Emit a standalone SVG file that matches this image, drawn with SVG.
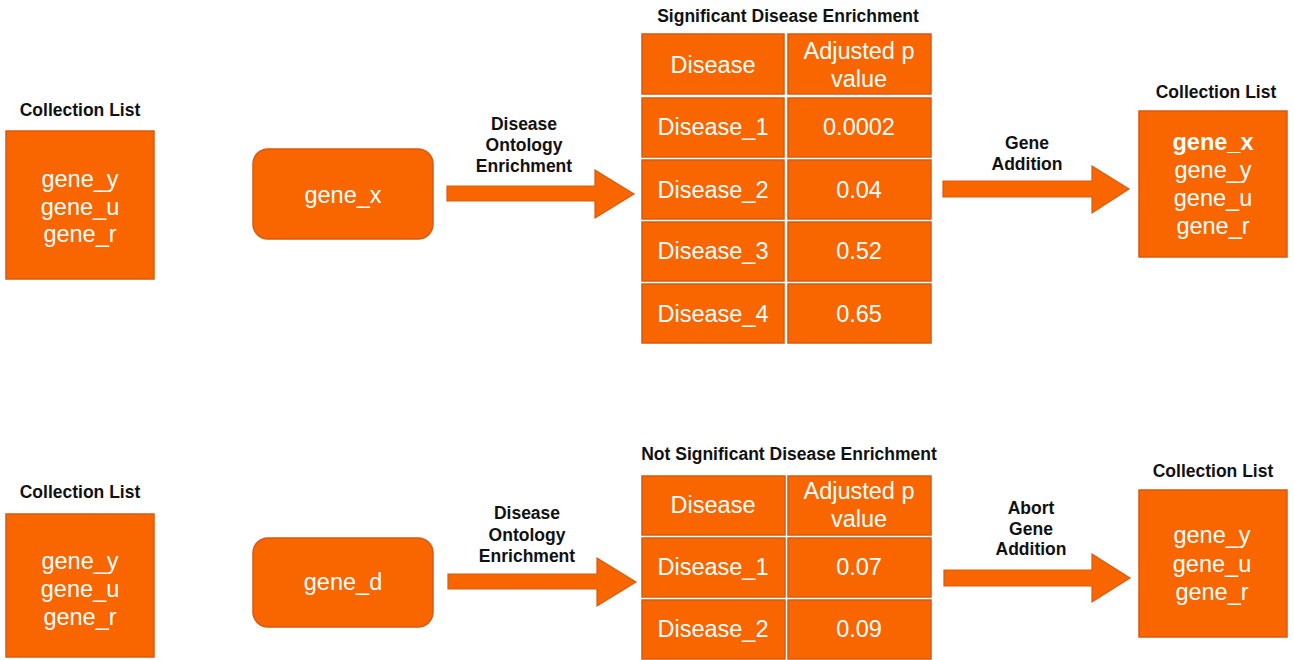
<svg xmlns="http://www.w3.org/2000/svg" width="1294" height="660" viewBox="0 0 1294 660">
<defs>
<style>
.box{fill:#F96600;stroke:#D85A10;stroke-width:1.5}
.arrow{fill:#F96600;stroke:#D85A10;stroke-width:1.2}
.t{font-family:"Liberation Sans",Arial,sans-serif;font-size:23.5px;fill:#FFFFFF;text-anchor:middle}
.tb{font-family:"Liberation Sans",Arial,sans-serif;font-size:23.5px;font-weight:bold;fill:#FFFFFF;text-anchor:middle}
.h{font-family:"Liberation Sans",Arial,sans-serif;font-size:17.5px;font-weight:bold;fill:#111111;text-anchor:middle}
</style>
</defs>
<rect width="1294" height="660" fill="#FFFFFF"/>

<!-- Top row -->
<g id="collection-top-left">
<text class="h" x="80" y="116">Collection List</text>
<rect class="box" x="6" y="131" width="148" height="148"/>
<text class="t" x="80" y="187">gene_y</text>
<text class="t" x="80" y="215">gene_u</text>
<text class="t" x="80" y="242">gene_r</text>
</g>

<g id="gene-x">
<rect class="box" x="253" y="149" width="180" height="90" rx="15" ry="15"/>
<text class="t" x="343" y="203">gene_x</text>
</g>

<g id="table-significant">
<text class="h" x="788" y="22">Significant Disease Enrichment</text>
<rect class="box" x="642" y="34" width="142" height="60"/>
<rect class="box" x="788" y="34" width="143" height="60"/>
<text class="t" x="713" y="73">Disease</text>
<text class="t" x="859" y="59">Adjusted p</text>
<text class="t" x="859" y="87">value</text>
<rect class="box" x="642" y="98" width="142" height="59"/>
<rect class="box" x="788" y="98" width="143" height="59"/>
<text class="t" x="713" y="135">Disease_1</text>
<text class="t" x="859" y="135">0.0002</text>
<rect class="box" x="642" y="160" width="142" height="59"/>
<rect class="box" x="788" y="160" width="143" height="59"/>
<text class="t" x="713" y="198">Disease_2</text>
<text class="t" x="859" y="198">0.04</text>
<rect class="box" x="642" y="222" width="142" height="59"/>
<rect class="box" x="788" y="222" width="143" height="59"/>
<text class="t" x="713" y="259">Disease_3</text>
<text class="t" x="859" y="259">0.52</text>
<rect class="box" x="642" y="284" width="142" height="59"/>
<rect class="box" x="788" y="284" width="143" height="59"/>
<text class="t" x="713" y="322">Disease_4</text>
<text class="t" x="859" y="322">0.65</text>
</g>

<g id="collection-top-right">
<text class="h" x="1216" y="98">Collection List</text>
<rect class="box" x="1139" y="111" width="148" height="146"/>
<text class="tb" x="1213" y="150">gene_x</text>
<text class="t" x="1213" y="178">gene_y</text>
<text class="t" x="1213" y="206">gene_u</text>
<text class="t" x="1213" y="234">gene_r</text>
</g>

<!-- Bottom row -->
<g id="collection-bottom-left">
<text class="h" x="80" y="498">Collection List</text>
<rect class="box" x="6" y="514" width="148" height="143"/>
<text class="t" x="80" y="569">gene_y</text>
<text class="t" x="80" y="597">gene_u</text>
<text class="t" x="80" y="625">gene_r</text>
</g>

<g id="gene-d">
<rect class="box" x="253" y="538" width="180" height="89" rx="15" ry="15"/>
<text class="t" x="343" y="590">gene_d</text>
</g>

<g id="table-not-significant">
<text class="h" x="789" y="460">Not Significant Disease Enrichment</text>
<rect class="box" x="642" y="476" width="143" height="59"/>
<rect class="box" x="788" y="476" width="143" height="59"/>
<text class="t" x="713" y="513">Disease</text>
<text class="t" x="859" y="499">Adjusted p</text>
<text class="t" x="859" y="527">value</text>
<rect class="box" x="642" y="538" width="143" height="59"/>
<rect class="box" x="788" y="538" width="143" height="59"/>
<text class="t" x="713" y="575">Disease_1</text>
<text class="t" x="859" y="575">0.07</text>
<rect class="box" x="642" y="600" width="143" height="59"/>
<rect class="box" x="788" y="600" width="143" height="59"/>
<text class="t" x="713" y="637">Disease_2</text>
<text class="t" x="859" y="637">0.09</text>
</g>

<g id="collection-bottom-right">
<text class="h" x="1213" y="477">Collection List</text>
<rect class="box" x="1139" y="490" width="148" height="147"/>
<text class="t" x="1212" y="543">gene_y</text>
<text class="t" x="1212" y="572">gene_u</text>
<text class="t" x="1212" y="600">gene_r</text>
</g>

<!-- Connectors -->
<g id="connectors">
<polygon class="arrow" points="447,186 595,186 595,170 634,194 595,218 595,201 447,201"/>
<text class="h" x="524" y="130">Disease</text>
<text class="h" x="524" y="151">Ontology</text>
<text class="h" x="524" y="172">Enrichment</text>

<polygon class="arrow" points="943,181 1092,181 1092,166 1129,189 1092,213 1092,197 943,197"/>
<text class="h" x="1027" y="149">Gene</text>
<text class="h" x="1027" y="170">Addition</text>

<polygon class="arrow" points="448,574 597,574 597,558 636,582 597,606 597,589 448,589"/>
<text class="h" x="527" y="519">Disease</text>
<text class="h" x="527" y="541">Ontology</text>
<text class="h" x="527" y="562">Enrichment</text>

<polygon class="arrow" points="944,570 1092,570 1092,554 1130,578 1092,602 1092,586 944,586"/>
<text class="h" x="1031" y="514">Abort</text>
<text class="h" x="1031" y="535">Gene</text>
<text class="h" x="1031" y="555">Addition</text>
</g>
</svg>
